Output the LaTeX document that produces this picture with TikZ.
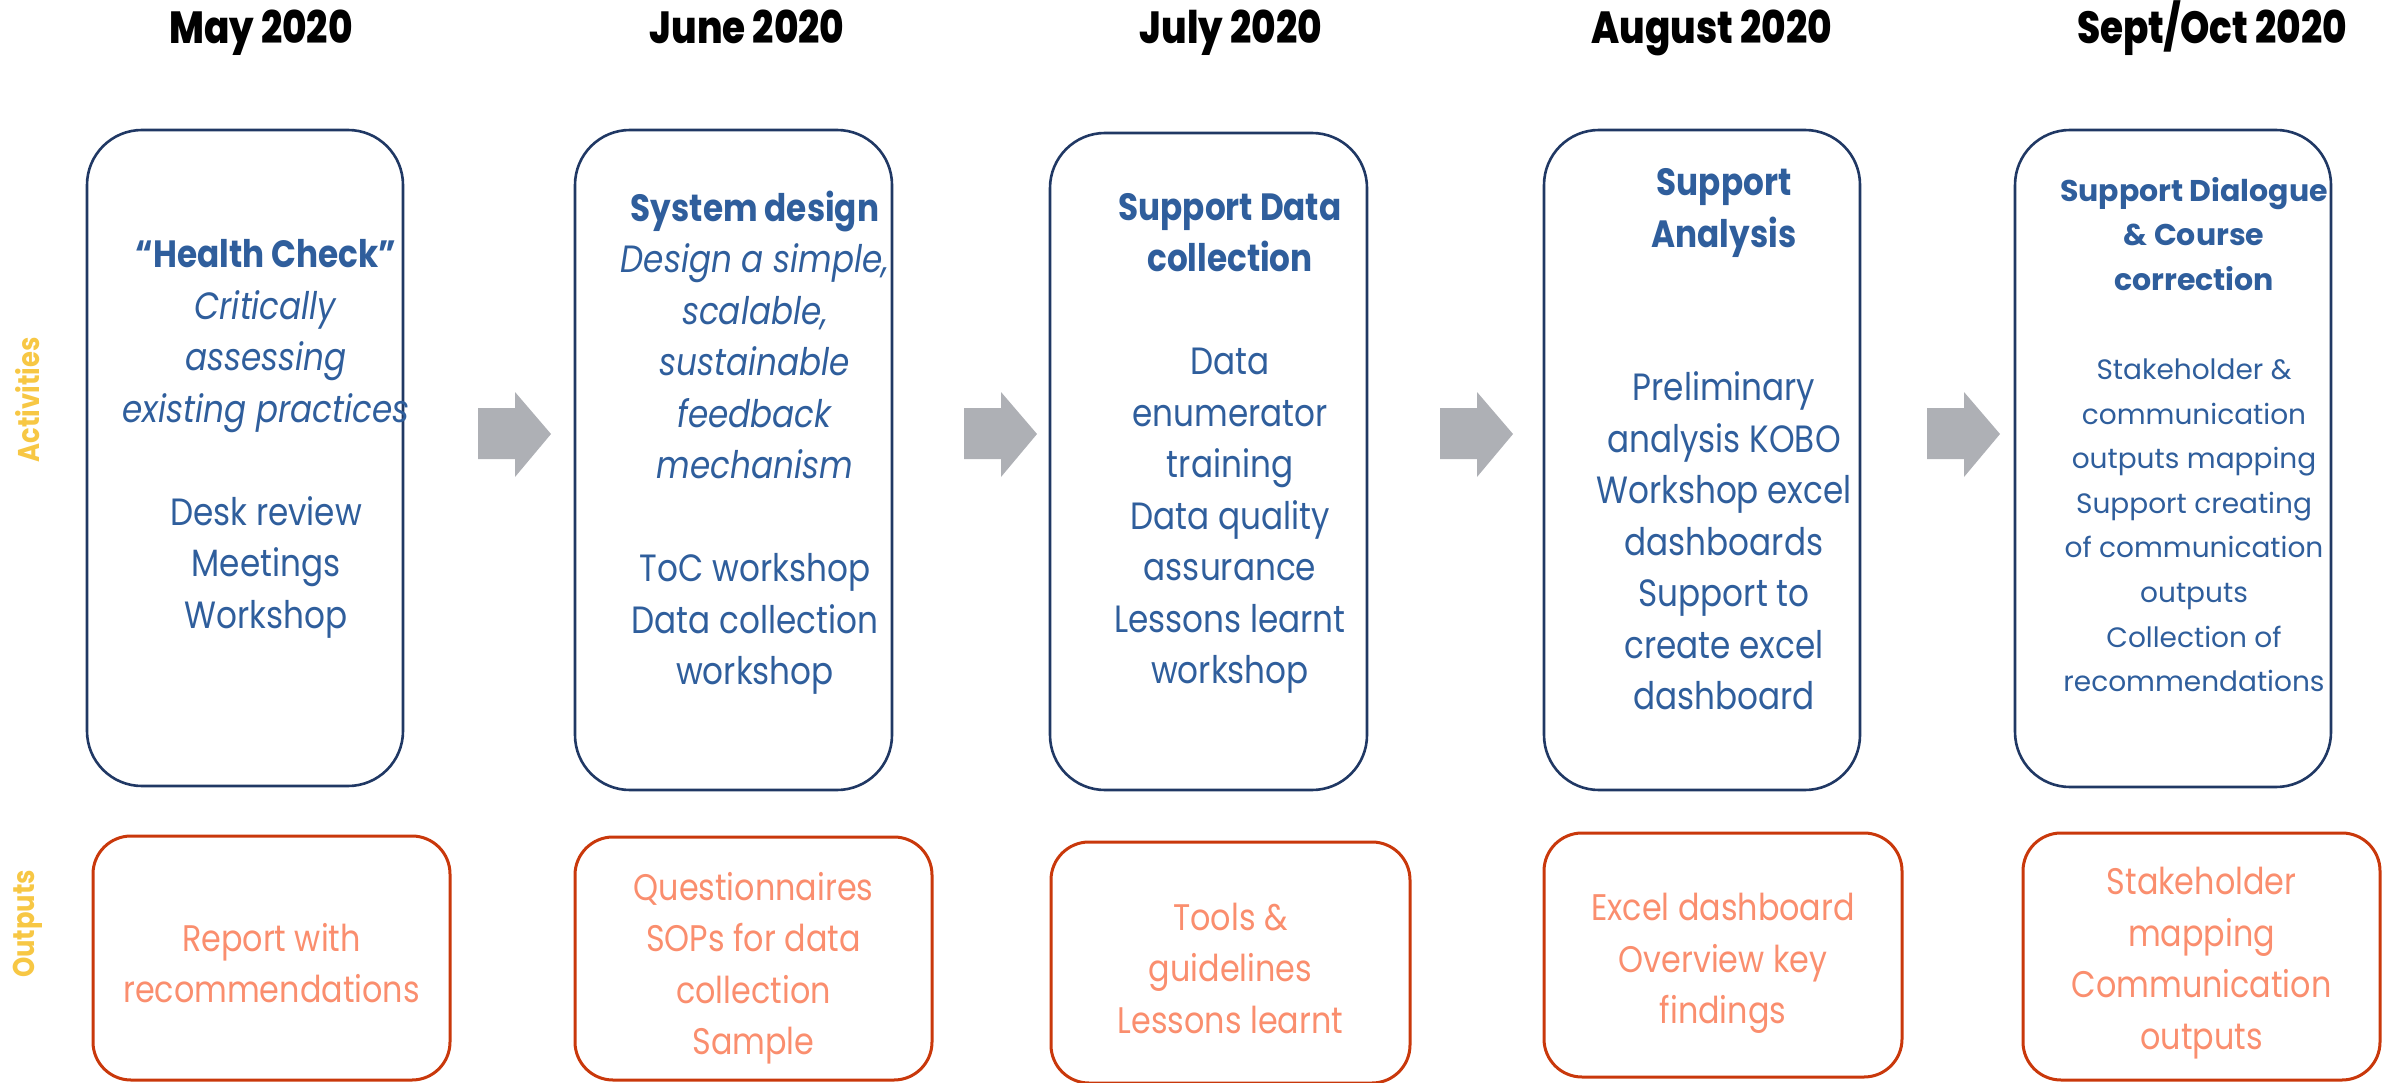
\documentclass[tikz,border=0pt]{standalone}
\usepackage{fontspec}
\setmainfont{Poppins}
\newfontfamily\geo[FakeStretch=0.86]{Poppins}
\newfontfamily\heavy[FakeStretch=0.83]{Poppins ExtraBold}
\newfontfamily\wide{Poppins}
\definecolor{navy}{HTML}{203864}
\definecolor{ink}{HTML}{2F5E9C}
\definecolor{rust}{HTML}{C9380B}
\definecolor{salmon}{HTML}{FA8E6E}
\definecolor{gold}{HTML}{F7C744}
\definecolor{steel}{HTML}{AEB0B5}
\begin{document}
\begin{tikzpicture}[x=1pt,y=-1pt,
  month/.style={font=\heavy\fontsize{45}{54}\selectfont, text=black, inner sep=0pt, anchor=base},
  actbox/.style={draw=navy, line width=2.6pt, rounded corners=55pt, inner sep=0pt},
  outbox/.style={draw=rust, line width=3pt, rounded corners=38pt, inner sep=0pt},
  acttext/.style={font=\geo\fontsize{38}{51.5}\selectfont, text=ink, align=center, inner sep=0pt},
  acttextwide/.style={font=\wide\fontsize{28}{44.6}\selectfont, text=ink, align=center, inner sep=0pt},
  outtext/.style={font=\geo\fontsize{37}{51.5}\selectfont, text=salmon, align=center, inner sep=0pt},
  rowlabel/.style={font=\geo\bfseries\fontsize{30}{36}\selectfont, text=gold, rotate=90, inner sep=0pt},
  blockarrow/.style={fill=steel}
]
\useasboundingbox (0,0) rectangle (2392,1083);

% month headings
\node[month] (m1) at (261,44) {May 2020};
\node[month] (m2) at (747,44) {June 2020};
\node[month] (m3) at (1231,44) {July 2020};
\node[month] (m4) at (1712,44) {August 2020};
\node[month] (m5) at (2212,44) {Sept/Oct 2020};

% row labels
\node[rowlabel] (lact) at (28,400) {Activities};
\node[rowlabel] (lout) at (28,924) {Outputs};

% activity boxes
\node[actbox, minimum width=316pt, minimum height=656pt] (a1) at (245,458) {};
\node[actbox, minimum width=317pt, minimum height=660pt] (a2) at (733.5,460) {};
\node[actbox, minimum width=317pt, minimum height=657pt] (a3) at (1208.5,461.5) {};
\node[actbox, minimum width=316pt, minimum height=660pt] (a4) at (1702,460) {};
\node[actbox, minimum width=316pt, minimum height=657pt] (a5) at (2173,458.5) {};

% output boxes
\node[outbox, minimum width=357pt, minimum height=244pt] (o1) at (271.5,958) {};
\node[outbox, minimum width=357pt, minimum height=243pt] (o2) at (753.5,958.5) {};
\node[outbox, minimum width=359pt, minimum height=241pt] (o3) at (1230.5,962.5) {};
\node[outbox, minimum width=358pt, minimum height=244pt] (o4) at (1723,955) {};
\node[outbox, minimum width=357pt, minimum height=247pt] (o5) at (2201.5,956.5) {};

% activity texts
\node[acttext] (t1) at (266,439) {\textbf{“Health Check”}\\ \textit{Critically}\\ \textit{assessing}\\ \textit{existing practices}\\[51.5pt] Desk review\\ Meetings\\ Workshop};
\node[acttext] (t2) at (755,442.5) {\textbf{System design}\\ \textit{Design a simple,}\\ \textit{scalable,}\\ \textit{sustainable}\\ \textit{feedback}\\ \textit{mechanism}\\[51.5pt] ToC workshop\\ Data collection\\ workshop};
\node[acttext] (t3) at (1230,443.5) {\textbf{Support Data}\\ \textbf{collection}\\[51.5pt] Data\\ enumerator\\ training\\ Data quality\\ assurance\\ Lessons learnt\\ workshop};
\node[acttext] (t4) at (1724,439.5) {\textbf{Support}\\ \textbf{Analysis}\\[102pt] Preliminary\\ analysis KOBO\\ Workshop excel\\ dashboards\\ Support to\\ create excel\\ dashboard};
\node[acttextwide] (t5) at (2194,434.5) {{\fontsize{30}{44.6}\selectfont\bfseries Support Dialogue}\\ {\fontsize{30}{44.6}\selectfont\bfseries \& Course}\\ {\fontsize{30}{44.6}\selectfont\bfseries correction}\\[44.6pt] Stakeholder \&\\ communication\\ outputs mapping\\ Support creating\\ of communication\\ outputs\\ Collection of\\ recommendations};

% output texts
\node[outtext] (u1) at (271.5,963) {Report with\\ recommendations};
\node[outtext] (u2) at (753.5,968) {Questionnaires\\ SOPs for data\\ collection\\ Sample};
\node[outtext] (u3) at (1230.5,968) {Tools \&\\ guidelines\\ Lessons learnt};
\node[outtext] (u4) at (1723,963.5) {Excel dashboard\\ Overview key\\ findings};
\node[outtext] (u5) at (2201.5,963) {Stakeholder\\ mapping\\ Communication\\ outputs};

% grey block arrows between the activity boxes
\foreach \ax in {478,964,1440,1927}{
  \fill[blockarrow] (\ax,408) -- (\ax+37,408) -- (\ax+37,392) -- (\ax+73,434)
    -- (\ax+37,477) -- (\ax+37,459) -- (\ax,459) -- cycle;
}
\end{tikzpicture}
\end{document}
